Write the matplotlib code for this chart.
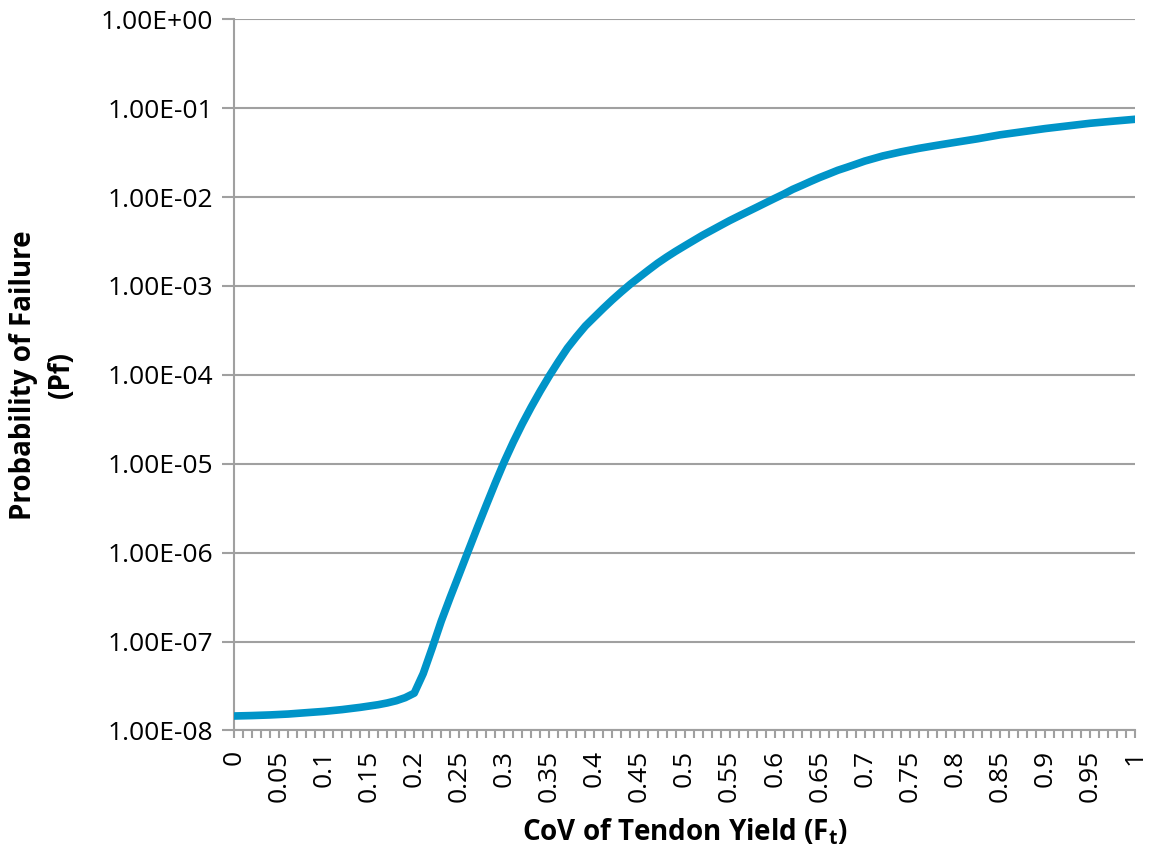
import matplotlib
matplotlib.use("Agg")
import matplotlib.pyplot as plt
import numpy as np

# CoV of tendon yield vs probability of failure
cov = [0.00, 0.02, 0.04, 0.06, 0.08, 0.10, 0.12, 0.14, 0.16, 0.17,
       0.18, 0.19, 0.20, 0.21, 0.22, 0.23, 0.24, 0.25, 0.26, 0.27,
       0.28, 0.29, 0.30, 0.31, 0.32, 0.33, 0.34, 0.35, 0.36, 0.37,
       0.38, 0.39, 0.40, 0.41, 0.42, 0.43, 0.44, 0.45, 0.46, 0.47,
       0.48, 0.49, 0.50, 0.51, 0.52, 0.53, 0.54, 0.55, 0.56, 0.57,
       0.58, 0.59, 0.60, 0.61, 0.62, 0.63, 0.64, 0.65, 0.66, 0.67,
       0.68, 0.69, 0.70, 0.72, 0.74, 0.76, 0.78, 0.80, 0.825, 0.85,
       0.875, 0.90, 0.925, 0.95, 0.975, 1.00]
pf = [1.455e-8, 1.472e-8, 1.496e-8, 1.531e-8, 1.585e-8, 1.64e-8, 1.718e-8, 1.82e-8, 1.95e-8, 2.04e-8,
      2.16e-8, 2.34e-8, 2.63e-8, 4.37e-8, 8.51e-8, 1.70e-7, 3.16e-7, 5.75e-7, 1.05e-6, 1.91e-6,
      3.43e-6, 6.10e-6, 1.06e-5, 1.76e-5, 2.82e-5, 4.37e-5, 6.61e-5, 9.77e-5, 1.41e-4, 2.00e-4,
      2.69e-4, 3.55e-4, 4.47e-4, 5.62e-4, 7.00e-4, 8.61e-4, 1.05e-3, 1.26e-3, 1.51e-3, 1.80e-3,
      2.11e-3, 2.45e-3, 2.82e-3, 3.24e-3, 3.72e-3, 4.22e-3, 4.79e-3, 5.43e-3, 6.10e-3, 6.84e-3,
      7.67e-3, 8.61e-3, 9.66e-3, 1.08e-2, 1.22e-2, 1.35e-2, 1.50e-2, 1.66e-2, 1.82e-2, 2.00e-2,
      2.16e-2, 2.34e-2, 2.54e-2, 2.90e-2, 3.22e-2, 3.53e-2, 3.82e-2, 4.12e-2, 4.52e-2, 5.01e-2,
      5.43e-2, 5.89e-2, 6.31e-2, 6.76e-2, 7.13e-2, 7.50e-2]

y_ticks = [1e-8, 1e-7, 1e-6, 1e-5, 1e-4, 1e-3, 1e-2, 1e-1, 1e0]
y_labels = ["1.00E-08", "1.00E-07", "1.00E-06", "1.00E-05", "1.00E-04",
            "1.00E-03", "1.00E-02", "1.00E-01", "1.00E+00"]
x_labels = ["0", "0.05", "0.1", "0.15", "0.2", "0.25", "0.3", "0.35", "0.4", "0.45",
            "0.5", "0.55", "0.6", "0.65", "0.7", "0.75", "0.8", "0.85", "0.9", "0.95", "1"]

plt.rcParams['font.family'] = ['Open Sans', 'DejaVu Sans']
plt.rcParams['mathtext.fontset'] = 'custom'
plt.rcParams['mathtext.rm'] = 'Open Sans'
plt.rcParams['mathtext.bf'] = 'Open Sans:bold'

grey = '#A0A0A0'

fig = plt.figure(figsize=(11.5, 8.6), dpi=100)
ax = fig.add_axes([0.2035, 0.1506, 0.7835, 0.827])

ax.plot(cov, pf, color='#0094C8', linewidth=5.5, solid_capstyle='round',
        solid_joinstyle='round', zorder=3)

ax.set_yscale('log')
ax.set_ylim(1e-8, 1e0)
ax.set_xlim(0, 1)

ax.set_yticks(y_ticks)
ax.set_yticklabels(y_labels)
ax.yaxis.set_minor_locator(matplotlib.ticker.NullLocator())

# every 0.01 gets a tick, every 0.05 gets a label
all_x = np.linspace(0, 1, 101)
ax.set_xticks(all_x)
lbl = []
for i in range(101):
    lbl.append(x_labels[i // 5] if i % 5 == 0 else "")
ax.set_xticklabels(lbl, rotation=90, va='top', ha='center')

ax.grid(axis='y', color=grey, linewidth=1.5, zorder=1)
ax.set_axisbelow(True)

for side in ['top', 'right']:
    ax.spines[side].set_visible(False)
for side in ['left', 'bottom']:
    ax.spines[side].set_color(grey)
    ax.spines[side].set_linewidth(1.5)

ax.tick_params(axis='both', colors=grey, labelcolor='black', labelsize=19,
               width=1.5, direction='out')
ax.tick_params(axis='y', length=9, pad=6)
ax.tick_params(axis='x', length=6, pad=8)

ax.set_ylabel("Probability of Failure\n(Pf)", fontsize=20, fontweight='bold',
              linespacing=1.4, labelpad=18)
ax.set_xlabel(r"CoV of Tendon Yield ($\mathbf{F_t}$)", fontsize=20,
              fontweight='bold', labelpad=10)

plt.savefig("out.png", dpi=100)
